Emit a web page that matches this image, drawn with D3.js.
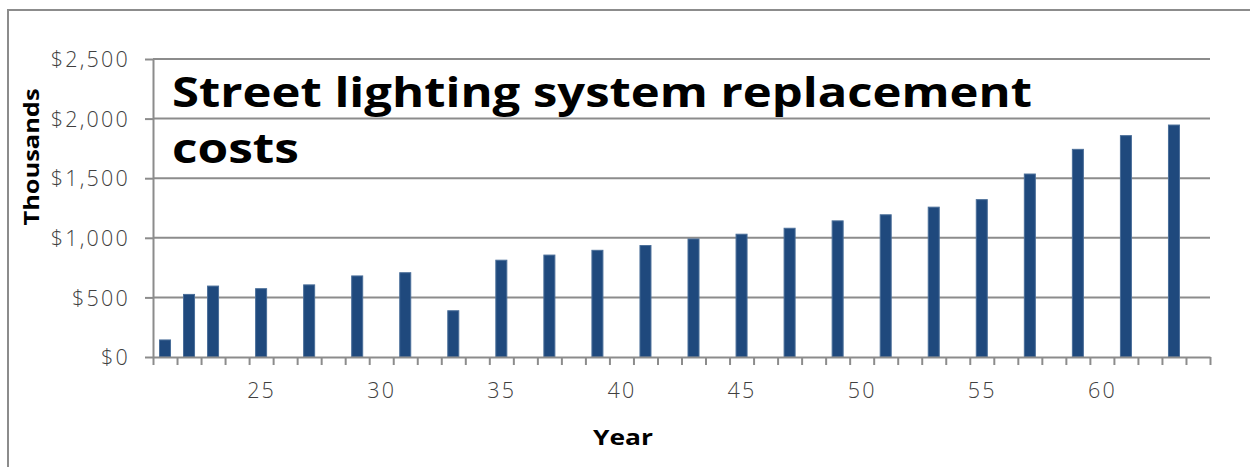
<!DOCTYPE html>
<html>
<head>
<meta charset="utf-8">
<script src="https://cdn.jsdelivr.net/npm/d3@7"></script>
<style>
  html, body { margin: 0; padding: 0; background: #fff; }
  svg { display: block; }
  text { font-family: "Open Sans", "Noto Sans", sans-serif; }
</style>
</head>
<body>
<svg id="chart" width="1250" height="467"></svg>
<script>
// Replacement cost per year (thousands of dollars)
const years = [21, 22, 23, 25, 27, 29, 31, 33, 35, 37, 39, 41, 43, 45, 47, 49, 51, 53, 55, 57, 59, 61, 63];
const costs = [143, 525, 595, 573, 605, 680, 707, 388, 812, 855, 895, 935, 990, 1030, 1080, 1142, 1193, 1257, 1320, 1535, 1742, 1857, 1946];
const yTicks = [0, 500, 1000, 1500, 2000, 2500];
const xLabels = [25, 30, 35, 40, 45, 50, 55, 60];
const firstYear = 21, lastYear = 64;

(function () {
  const svg = d3.select("#chart");
  const plotLeft = 153, plotRight = 1210, plotTop = 59, plotBottom = 357;
  const tickFont = 21.5;

  // Outer frame (left and top edges)
  svg.append("path")
    .attr("d", "M8,467 L8,10 L1250,10")
    .attr("fill", "none").attr("stroke", "#8c8c8c").attr("stroke-width", 2);

  const x = d3.scaleLinear().domain([firstYear - 0.5, lastYear + 0.5]).range([plotLeft, plotRight]);
  const y = d3.scaleLinear().domain([0, 2500]).range([plotBottom, plotTop]);
  const barW = 11;

  // Horizontal gridlines
  svg.append("g").selectAll("line")
    .data(yTicks.filter(d => d > 0))
    .join("line")
    .attr("x1", plotLeft).attr("x2", plotRight)
    .attr("y1", d => y(d)).attr("y2", d => y(d))
    .attr("stroke", "#8c8c8c").attr("stroke-width", 2);

  // Y axis with dollar labels
  const yAxis = d3.axisLeft(y).tickValues(yTicks).tickSize(8).tickSizeOuter(0)
    .tickFormat(d => "$" + d3.format(",")(d));
  const gy = svg.append("g").attr("transform", `translate(${plotLeft},0)`).call(yAxis);
  gy.select(".domain").attr("stroke", "#8c8c8c").attr("stroke-width", 2);
  gy.selectAll(".tick line").attr("stroke", "#8c8c8c").attr("stroke-width", 2);
  gy.selectAll(".tick text")
    .attr("x", -23).attr("dy", "0.36em")
    .attr("font-size", tickFont).attr("fill", "#404040")
    .attr("letter-spacing", 2.2)
    .attr("font-family", "'Open Sans', sans-serif").attr("font-weight", 300);

  // Bars
  svg.append("g").selectAll("rect")
    .data(years.map((yr, i) => ({ yr, v: costs[i] })))
    .join("rect")
    .attr("x", d => x(d.yr) - barW / 2)
    .attr("width", barW)
    .attr("y", d => y(d.v))
    .attr("height", d => y(0) - y(d.v))
    .attr("fill", "#1f497d")
    .attr("stroke", "#4a6e99").attr("stroke-width", 1);

  // X axis: tick marks at category boundaries
  const boundaries = d3.range(firstYear - 0.5, lastYear + 1, 1);
  const gx = svg.append("g").attr("transform", `translate(0,${plotBottom})`)
    .call(d3.axisBottom(x).tickValues(boundaries).tickSize(8).tickSizeOuter(0).tickFormat(""));
  gx.select(".domain").attr("stroke", "#8c8c8c").attr("stroke-width", 2);
  gx.selectAll(".tick line").attr("stroke", "#8c8c8c").attr("stroke-width", 2);

  // X labels at category centres
  const gxl = svg.append("g").attr("transform", `translate(0,${plotBottom})`)
    .call(d3.axisBottom(x).tickValues(xLabels).tickSize(0).tickFormat(d3.format("d")));
  gxl.select(".domain").remove();
  gxl.selectAll(".tick text")
    .attr("y", 41).attr("dy", "0")
    .attr("font-size", tickFont).attr("fill", "#404040")
    .attr("letter-spacing", 2.2)
    .attr("font-family", "'Open Sans', sans-serif").attr("font-weight", 300);

  // Axis titles
  svg.append("text")
    .attr("x", 623).attr("y", 445)
    .attr("text-anchor", "middle")
    .attr("font-size", 21).attr("font-weight", 700).attr("fill", "#000")
    .attr("textLength", 60).attr("lengthAdjust", "spacingAndGlyphs")
    .text("Year");

  svg.append("text")
    .attr("transform", "translate(39,157) rotate(-90)")
    .attr("text-anchor", "middle")
    .attr("font-size", 21).attr("font-weight", 700).attr("fill", "#000")
    .attr("textLength", 137).attr("lengthAdjust", "spacingAndGlyphs")
    .text("Thousands");

  // Chart title
  const title = svg.append("text")
    .attr("font-size", 42).attr("font-weight", 700).attr("fill", "#000");
  title.append("tspan").attr("x", 172).attr("y", 107)
    .attr("textLength", 860).attr("lengthAdjust", "spacingAndGlyphs")
    .text("Street lighting system replacement");
  title.append("tspan").attr("x", 172).attr("y", 163)
    .attr("textLength", 127).attr("lengthAdjust", "spacingAndGlyphs")
    .text("costs");
})();
</script>
</body>
</html>
